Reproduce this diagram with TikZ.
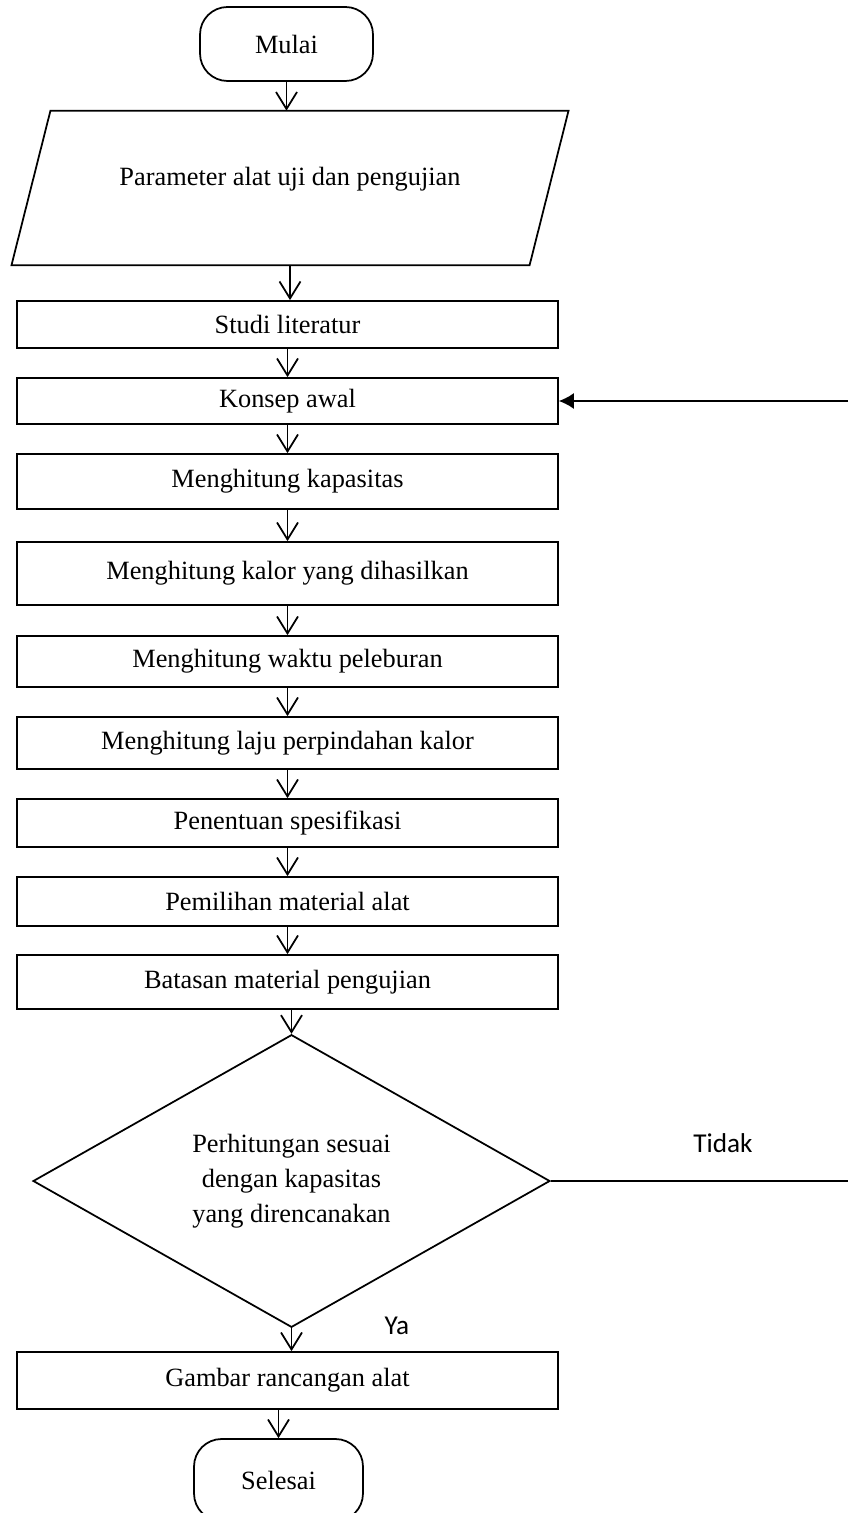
\documentclass[tikz,border=0pt]{standalone}
\usepackage{fontspec}
\setmainfont{Liberation Serif}
\newfontfamily\labelfont{Carlito}
\usetikzlibrary{shapes,arrows.meta,positioning,calc}

\begin{document}
\begin{tikzpicture}[
    x=0.02cm, y=-0.02cm,
    font=\fontsize{15}{20}\selectfont,
    terminal/.style={draw, rectangle, rounded corners=0.55cm, minimum width=3.46cm, minimum height=1.48cm, line width=1pt},
    iobox/.style={rectangle, minimum width=10.35cm, minimum height=3.08cm, text height=0.35cm, text depth=0.45cm},
    procbox/.style={draw, rectangle, minimum width=10.82cm, line width=1pt},
    decision/.style={draw, diamond, minimum width=10.34cm, minimum height=5.64cm, inner sep=0pt, align=center, line width=1pt},
    answer/.style={font=\labelfont\fontsize{15.5}{18}\selectfont},
    flow/.style={-{Straight Barb[length=0.34cm,width=0.42cm]}, line width=1pt},
    back/.style={-{Latex[length=0.3cm,width=0.32cm]}, line width=1pt}
  ]
  \useasboundingbox (0,0) rectangle (848,1513);

  % awal dan input
  \node[terminal] (mulai) at (286.5,44) {Mulai};
  \node[iobox] (param) at (290,188) {Parameter alat uji dan pengujian};
  \draw[line width=1pt] ([xshift=-0.39cm]param.south west) -- ([xshift=0.39cm]param.north west)
    -- ([xshift=0.39cm]param.north east) -- ([xshift=-0.39cm]param.south east) -- cycle;

  % proses
  \node[procbox, minimum height=0.94cm] (studi) at (287.5,324.5) {Studi literatur};
  \node[procbox, minimum height=0.92cm] (konsep) at (287.5,401) {Konsep awal};
  \node[procbox, minimum height=1.1cm] (kapasitas) at (287.5,481.5) {Menghitung kapasitas};
  \node[procbox, minimum height=1.26cm] (kalor) at (287.5,573.5) {Menghitung kalor yang dihasilkan};
  \node[procbox, minimum height=1.02cm] (waktu) at (287.5,661.5) {Menghitung waktu peleburan};
  \node[procbox, minimum height=1.04cm] (laju) at (287.5,743) {Menghitung laju perpindahan kalor};
  \node[procbox, minimum height=0.96cm] (spek) at (287.5,823) {Penentuan spesifikasi};
  \node[procbox, minimum height=0.98cm] (pilih) at (287.5,901.5) {Pemilihan material alat};
  \node[procbox, minimum height=1.08cm] (batas) at (287.5,982) {Batasan material pengujian};

  % keputusan
  \node[decision] (cek) at (291.5,1181) {Perhitungan sesuai\\dengan kapasitas\\yang direncanakan};
  \node[answer] (tidak) at (723,1143) {Tidak};
  \node[answer] (ya) at (397,1326) {Ya};
  \coordinate (tidakend) at (848,1181);
  \coordinate (ulang) at (848,401);

  % akhir
  \node[procbox, minimum height=1.14cm] (gambar) at (287.5,1380.5) {Gambar rancangan alat};
  \node[terminal, minimum width=3.38cm, minimum height=1.64cm] (selesai) at (278.5,1480) {Selesai};

  \draw[flow] (mulai.south) -- (mulai.south |- param.north);
  \draw[flow] (param.south) -- (param.south |- studi.north);
  \draw[flow] (studi) -- (konsep);
  \draw[flow] (konsep) -- (kapasitas);
  \draw[flow] (kapasitas) -- (kalor);
  \draw[flow] (kalor) -- (waktu);
  \draw[flow] (waktu) -- (laju);
  \draw[flow] (laju) -- (spek);
  \draw[flow] (spek) -- (pilih);
  \draw[flow] (pilih) -- (batas);
  \draw[flow] (batas.south -| cek.north) -- (cek.north);
  \draw[flow] (cek.south) -- (cek.south |- gambar.north);
  \draw[flow] (gambar.south -| selesai.north) -- (selesai.north);

  \draw[line width=1pt] (cek.east) -- (tidakend);
  \draw[back] (ulang) -- (konsep.east);
\end{tikzpicture}
\end{document}
